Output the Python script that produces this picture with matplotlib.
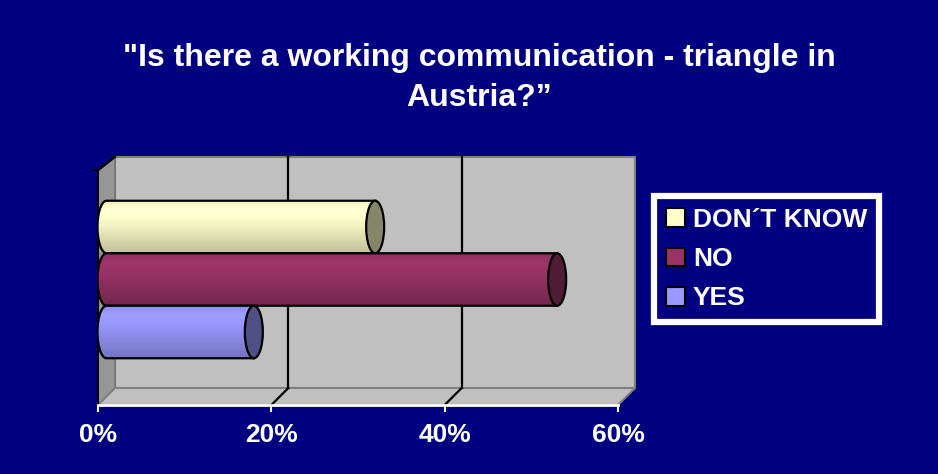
import numpy as np
import matplotlib
matplotlib.use("Agg")
import matplotlib.pyplot as plt
from matplotlib.patches import Polygon, Ellipse, PathPatch, Patch
from matplotlib.path import Path
from matplotlib.colors import to_rgb

plt.rcParams['font.family'] = ['Liberation Sans', 'DejaVu Sans']

# ---- data ----
title_lines = ['"Is there a working communication - triangle in', 'Austria?\u201d']
categories = ['YES', 'NO', 'DON\u00b4T KNOW']          # bottom -> top
values = [17, 52, 31]                                # percent
bar_colors = ['#9999FF', '#993366', '#FFFFCC']
xticks = [0, 20, 40, 60]
xtick_labels = ['0%', '20%', '40%', '60%']

NAVY = '#000080'
W, Hpx = 938, 474
# layout (pixels)
AX_L, AX_R, AX_B, AX_T = 98, 618, 405, 157
SX = (AX_R - AX_L) / 60.0      # px per percent
SY = 52.5                      # px per category unit
DX = 17 / SX                   # depth offset in data units
DY = 17 / SY
HX, HY = DX / 2, DY / 2
ylo = -(AX_B - 340.5) / SY
yhi = ylo + (AX_B - AX_T) / SY
BAR_H = 1.0
EW = 18 / SX

fig = plt.figure(figsize=(W / 100, Hpx / 100), dpi=100, facecolor=NAVY)
ax = fig.add_axes([AX_L / W, (Hpx - AX_B) / Hpx, (AX_R - AX_L) / W, (AX_B - AX_T) / Hpx])
ax.set_facecolor('none')
ax.set_xlim(0, 60)
ax.set_ylim(ylo, yhi)

xmax = xticks[-1]
# back wall
ax.add_patch(Polygon([(DX, ylo + DY), (xmax + DX, ylo + DY), (xmax + DX, yhi), (DX, yhi)],
                     closed=True, facecolor='#C0C0C0', edgecolor='#808080', lw=1.5,
                     clip_on=False, zorder=1))
# side wall
ax.add_patch(Polygon([(0, ylo), (DX, ylo + DY), (DX, yhi), (0, yhi - DY * 0.78)],
                     closed=True, facecolor='#969696', edgecolor='#707070', lw=1.0,
                     clip_on=False, zorder=1))
# floor
ax.add_patch(Polygon([(0, ylo), (xmax, ylo), (xmax + DX, ylo + DY), (DX, ylo + DY)],
                     closed=True, facecolor='#C0C0C0', edgecolor='#808080', lw=1.5,
                     clip_on=False, zorder=1))
# category axis line (black) on the side wall front edge + top tick
ax.plot([0, 0], [ylo, yhi - DY * 0.78], color='black', lw=1.5, clip_on=False, zorder=2)
ax.plot([0, DX], [yhi - DY * 0.78, yhi], color='black', lw=1.5, clip_on=False, zorder=2)
ax.plot([-5 / SX, 0], [yhi - DY * 0.78, yhi - DY * 0.78], color='black', lw=1.5, clip_on=False, zorder=2)
# gridlines
for g in xticks[1:-1]:
    ax.plot([g + DX, g + DX], [ylo + DY, yhi], color='black', lw=1.6, zorder=2, clip_on=False)
    ax.plot([g, g + DX], [ylo, ylo + DY], color='black', lw=1.6, zorder=2, clip_on=False)


def shade(base, f):
    c = np.array(to_rgb(base))
    return np.clip(c * f, 0, 1)


def cylinder(v, yc, base, z):
    x0 = HX
    x1 = v + HX
    cy = yc + HY
    y0, y1 = cy - BAR_H / 2, cy + BAR_H / 2
    t = np.linspace(np.pi / 2, 3 * np.pi / 2, 40)
    left = np.column_stack([x0 + EW / 2 * np.cos(t), cy + BAR_H / 2 * np.sin(t)])
    pts = np.vstack([left, [[x1, y0], [x1, y1]]])
    path = Path(np.vstack([pts, pts[:1]]), closed=True)
    clip = PathPatch(path, transform=ax.transData, facecolor='none', edgecolor='none')
    ax.add_patch(clip)
    tt = np.linspace(0, 1, 80)
    f = np.interp(tt, [0, 0.2, 0.45, 1.0], [0.93, 1.04, 0.96, 0.76])
    img = np.array([shade(base, fi) for fi in f])[:, None, :]
    im = ax.imshow(img, extent=(x0 - EW / 2, x1, y0, y1), origin='upper', aspect='auto',
                   interpolation='bilinear', zorder=z)
    im.set_clip_path(clip)
    ax.add_patch(PathPatch(path, facecolor='none', edgecolor='black', lw=1.6, zorder=z + 0.1))
    ax.add_patch(Ellipse((x1, cy), EW, BAR_H, facecolor=shade(base, 0.52), edgecolor='black',
                         lw=1.6, zorder=z + 0.2))


n = len(categories)
for i in reversed(range(n)):
    cylinder(values[i], i, bar_colors[i], 3 + (n - i))

ax.set_xlim(0, 60)
ax.set_ylim(ylo, yhi)

for s in ['top', 'right', 'left']:
    ax.spines[s].set_visible(False)
ax.spines['bottom'].set_color('white')
ax.spines['bottom'].set_linewidth(2)
ax.spines['bottom'].set_zorder(10)
ax.set_yticks([])
ax.set_xticks(xticks)
ax.set_xticklabels(xtick_labels, fontsize=19, fontweight='bold', color='white')
ax.tick_params(axis='x', colors='white', length=5, width=1.5, pad=8)

# title
fig.text(479 / W, 1 - 66 / Hpx, title_lines[0], ha='center', va='baseline', color='white',
         fontsize=23, fontweight='bold')
fig.text(479 / W, 1 - 106 / Hpx, title_lines[1], ha='center', va='baseline', color='white',
         fontsize=23, fontweight='bold')

# legend
handles = [Patch(facecolor=bar_colors[i], edgecolor='black', lw=1.5) for i in reversed(range(n))]
labels = [categories[i] for i in reversed(range(n))]
leg = ax.legend(handles, labels, loc='upper left', bbox_to_anchor=(654 / W, 1 - 196 / Hpx),
                bbox_transform=fig.transFigure, frameon=True, facecolor=NAVY, edgecolor='white',
                fancybox=False, framealpha=1, prop={'weight': 'bold', 'size': 19},
                labelcolor='white', handlelength=0.72, handleheight=0.72, handletextpad=0.3,
                borderpad=0.45, labelspacing=0.58, borderaxespad=0)
leg.get_frame().set_linewidth(4.5)

fig.savefig('out.png', dpi=100, facecolor=NAVY)
